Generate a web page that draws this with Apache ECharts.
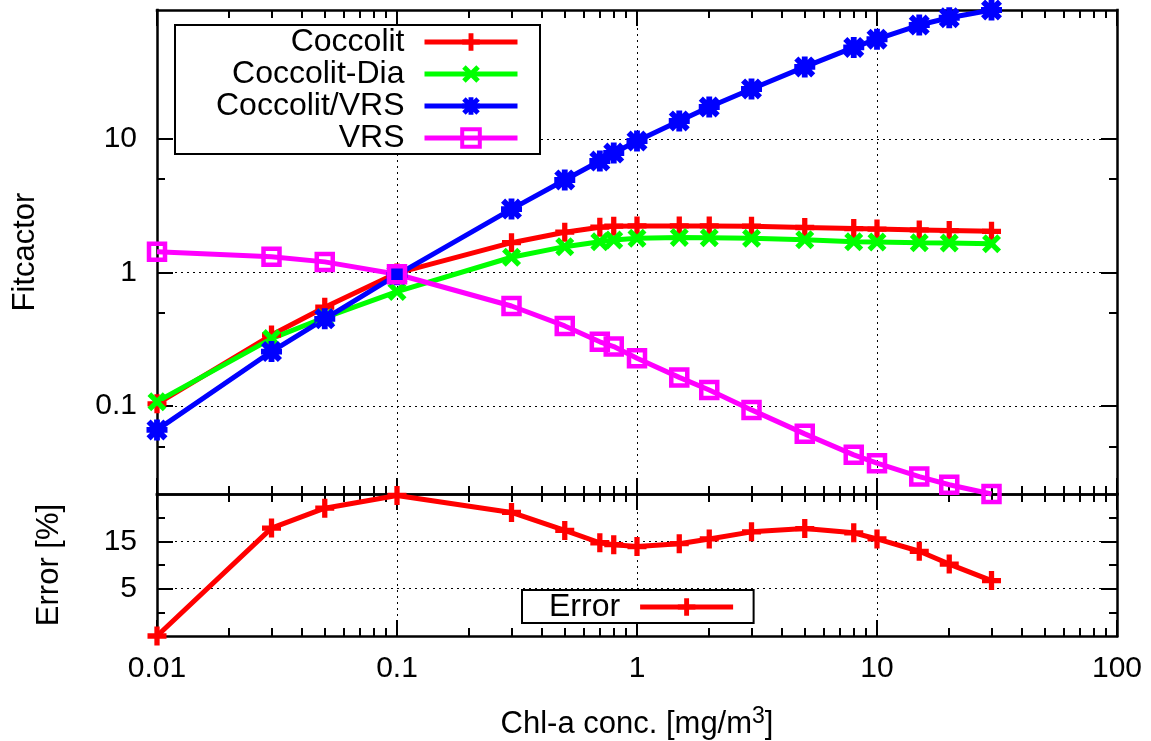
<!DOCTYPE html>
<html>
<head>
<meta charset="utf-8">
<script src="https://cdn.jsdelivr.net/npm/echarts@6/dist/echarts.min.js"></script>
<style>
  html, body { margin: 0; padding: 0; background: #fff; }
  #chart { width: 1151px; height: 741px; }
</style>
</head>
<body>
<div id="chart"></div>
<script>
// Chlorophyll-a concentrations [mg/m^3] shared by all curves
const concentration = [0.01, 0.03, 0.05, 0.1, 0.3, 0.5, 0.7, 0.8, 1, 1.5, 2, 3, 5, 8, 10, 15, 20, 30];

// Fit factors (upper panel, log scale)
const coccolit    = [0.104, 0.34, 0.55, 0.99, 1.67, 2.0, 2.18, 2.22, 2.23, 2.23, 2.23, 2.22, 2.17, 2.13, 2.11, 2.08, 2.06, 2.03];
const coccolitDia = [0.108, 0.32, 0.46, 0.72, 1.30, 1.56, 1.70, 1.75, 1.80, 1.83, 1.82, 1.80, 1.76, 1.70, 1.69, 1.67, 1.66, 1.64];
const coccolitVrs = [0.0664, 0.256, 0.45, 0.96, 2.98, 4.92, 6.82, 7.83, 9.63, 13.6, 17.3, 23.6, 34.5, 48.3, 55.6, 71, 80.5, 92];
const vrs         = [1.43, 1.31, 1.20, 0.97, 0.561, 0.398, 0.303, 0.279, 0.228, 0.164, 0.132, 0.0937, 0.062, 0.0432, 0.0374, 0.0297, 0.0258, 0.022];

// Retrieval error (lower panel)
const errorPct = [-5, 17.8, 22.0, 24.7, 21.1, 17.3, 14.7, 14.3, 13.9, 14.5, 15.5, 17.0, 17.7, 16.8, 15.5, 12.9, 10.2, 6.7];

// Axis ranges and tick positions
const xRange = [0.01, 100];
const xMajorTicks = [0.01, 0.1, 1, 10, 100];
const xMinorFactors = [2, 3, 4, 5, 6, 7, 8, 9];
const fitRange = [0.022, 92];
const fitMajorTicks = [0.1, 1, 10];
const fitMinorTicks = [0.05, 0.5, 5];
const errRange = [-5, 25];
const errMajorTicks = [5, 15];
const errMinorTicks = [0, 10, 20];

const xMinorTicks = [];
xMajorTicks.slice(0, -1).forEach(d => xMinorFactors.forEach(f => xMinorTicks.push(+(d * f).toPrecision(6))));

const FONT = '"Liberation Sans", Arial, Helvetica, sans-serif';
const pair = ys => concentration.map((x, i) => [x, ys[i]]);
const fmt = v => String(+(+v).toPrecision(6));

const frame = { color: '#000', width: 2.5, cap: 'square' };
const gridLine = { color: '#000', width: 1, type: [2, 4] };
const labelStyle = { show: true, color: '#000', fontSize: 30, fontFamily: FONT, formatter: fmt };

// gnuplot-like point types
const plusPart = 'M-2.5,-9H2.5V-2.5H9V2.5H2.5V9H-2.5V2.5H-9V-2.5H-2.5Z';
const crossPart = 'M-9,-5.46L-5.46,-9L0,-3.54L5.46,-9L9,-5.46L3.54,0L9,5.46L5.46,9L0,3.54L-5.46,9L-9,5.46L-3.54,0Z';
const plusSym = 'path://' + plusPart;
const crossSym = 'path://' + crossPart;
const starSym = 'path://' + plusPart + crossPart;

// one axis of the frame: major or minor ticks, drawn inward
function frameAxis(common, position, ticks, length, major, extra) {
  return Object.assign({}, common, {
    position,
    silent: true,
    axisLine: { show: major, onZero: false, lineStyle: frame },
    axisTick: { show: true, inside: true, length, customValues: ticks, lineStyle: { color: '#000', width: 2 } },
    axisLabel: { show: false },
    splitLine: { show: false }
  }, extra || {});
}

const xCommon = g => ({ type: 'log', logBase: 10, gridIndex: g, min: xRange[0], max: xRange[1] });
const fitCommon = { type: 'log', logBase: 10, gridIndex: 0, min: fitRange[0], max: fitRange[1] };
const errCommon = { type: 'value', gridIndex: 1, min: errRange[0], max: errRange[1] };

const MAJ = 16, MIN = 8;

const xAxes = [
  // upper panel
  frameAxis(xCommon(0), 'bottom', xMajorTicks, MAJ, true, { splitLine: { show: true, lineStyle: gridLine } }),
  frameAxis(xCommon(0), 'bottom', xMinorTicks, MIN, false),
  frameAxis(xCommon(0), 'top', xMajorTicks, MAJ, true),
  frameAxis(xCommon(0), 'top', xMinorTicks, MIN, false),
  // lower panel
  frameAxis(xCommon(1), 'bottom', xMajorTicks, MAJ, true, {
    splitLine: { show: true, lineStyle: gridLine },
    axisLabel: Object.assign({}, labelStyle, { customValues: xMajorTicks, margin: 18 }),
    name: 'Chl-a conc. [mg/m{sup|3}]',
    nameLocation: 'middle',
    nameGap: 69,
    nameTextStyle: {
      color: '#000', fontSize: 31, fontFamily: FONT,
      rich: { sup: { color: '#000', fontSize: 23, fontFamily: FONT, padding: [0, 0, 16, 0] } }
    }
  }),
  frameAxis(xCommon(1), 'bottom', xMinorTicks, MIN, false),
  frameAxis(xCommon(1), 'top', xMajorTicks, MAJ, true),
  frameAxis(xCommon(1), 'top', xMinorTicks, MIN, false)
];

const yAxes = [
  // upper panel
  frameAxis(fitCommon, 'left', fitMajorTicks, MAJ, true, {
    splitLine: { show: true, lineStyle: gridLine },
    axisLabel: Object.assign({}, labelStyle, { customValues: fitMajorTicks, margin: 20 }),
    name: 'Fitcactor',
    nameLocation: 'middle',
    nameRotate: 90,
    nameGap: 116,
    nameTextStyle: { color: '#000', fontSize: 31, fontFamily: FONT }
  }),
  frameAxis(fitCommon, 'left', fitMinorTicks, MIN, false),
  frameAxis(fitCommon, 'right', fitMajorTicks, MAJ, true),
  frameAxis(fitCommon, 'right', fitMinorTicks, MIN, false),
  // lower panel
  frameAxis(errCommon, 'left', errMajorTicks, MAJ, true, {
    splitLine: { show: true, lineStyle: gridLine },
    axisLabel: Object.assign({}, labelStyle, { customValues: errMajorTicks, margin: 20 }),
    name: 'Error [%]',
    nameLocation: 'middle',
    nameRotate: 90,
    nameGap: 92,
    nameTextStyle: { color: '#000', fontSize: 31, fontFamily: FONT }
  }),
  frameAxis(errCommon, 'left', errMinorTicks, MIN, false),
  frameAxis(errCommon, 'right', errMajorTicks, MAJ, true),
  frameAxis(errCommon, 'right', errMinorTicks, MIN, false)
];

function lineSeries(name, ys, color, symbol, size, xi, yi, itemStyle) {
  return {
    name, type: 'line', data: pair(ys),
    xAxisIndex: xi, yAxisIndex: yi,
    symbol, symbolSize: size,
    clip: false,
    lineStyle: { color, width: 5 },
    itemStyle: itemStyle || { color, borderWidth: 0 },
    emphasis: { disabled: true }
  };
}

const legendText = {
  color: '#000', fontSize: 32, fontFamily: FONT, lineHeight: 32,
  rich: { gap: { width: 15 } }
};

function legendItem(name, color, hollow) {
  return {
    name,
    itemStyle: hollow
      ? { color: 'rgba(0,0,0,0)', borderColor: color, borderWidth: 4 }
      : { color, borderWidth: 0 },
    lineStyle: { color, width: 5 }
  };
}

const legendBase = {
  orient: 'vertical',
  align: 'right',
  itemWidth: 93,
  itemHeight: 22,
  itemGap: 0,
  selectedMode: false,
  backgroundColor: '#fff',
  borderColor: '#000',
  borderWidth: 2,
  borderRadius: 0,
  formatter: '{name}{gap|}',
  textStyle: legendText
};

const option = {
  animation: false,
  backgroundColor: '#fff',
  grid: [
    { left: 157, right: 34, top: 10, height: 484 },
    { left: 157, right: 34, top: 494, height: 146 }
  ],
  xAxis: xAxes,
  yAxis: yAxes,
  legend: [
    Object.assign({}, legendBase, {
      left: 175, top: 25, padding: [1, 20, 0, 41],
      data: [
        legendItem('Coccolit', '#ff0000'),
        legendItem('Coccolit-Dia', '#00ff00'),
        legendItem('Coccolit/VRS', '#0000ff'),
        legendItem('VRS', '#ff00ff', true)
      ]
    }),
    Object.assign({}, legendBase, {
      left: 522, top: 590, padding: [1, 18, 0, 27],
      data: [legendItem('Error', '#ff0000')]
    })
  ],
  series: [
    lineSeries('Coccolit', coccolit, '#ff0000', plusSym, 19, 0, 0),
    lineSeries('Coccolit-Dia', coccolitDia, '#00ff00', crossSym, 19, 0, 0),
    lineSeries('Coccolit/VRS', coccolitVrs, '#0000ff', starSym, 21, 0, 0),
    lineSeries('VRS', vrs, '#ff00ff', 'rect', 16, 0, 0,
      { color: 'rgba(0,0,0,0)', borderColor: '#ff00ff', borderWidth: 4.5 }),
    lineSeries('Error', errorPct, '#ff0000', plusSym, 19, 4, 4)
  ]
};

const chart = echarts.init(document.getElementById('chart'), null, { renderer: 'canvas' });
chart.setOption(option);
</script>
</body>
</html>
